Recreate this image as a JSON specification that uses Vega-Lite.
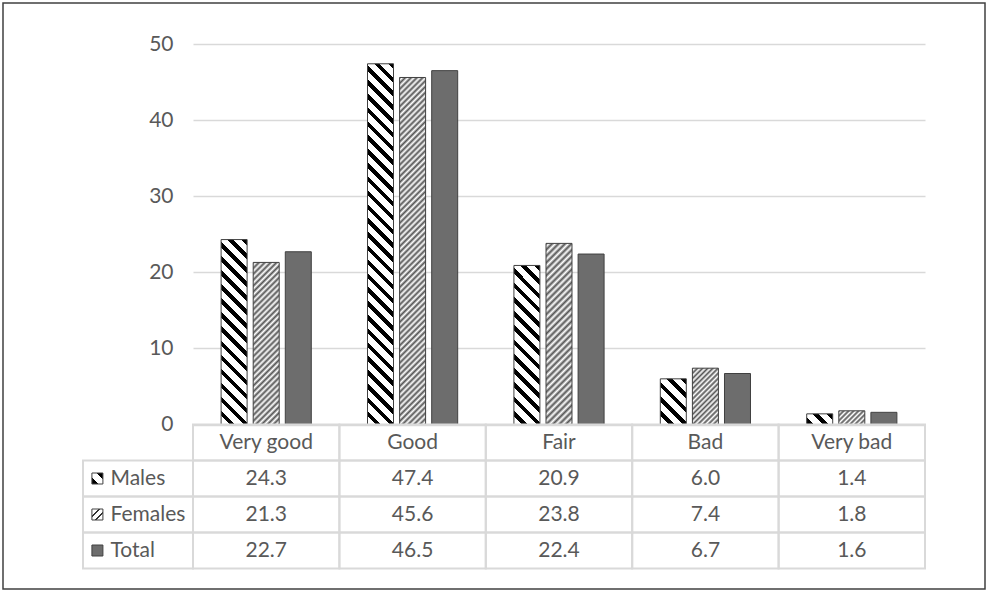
{
"$schema":"https://vega.github.io/schema/vega-lite/v6.json",
"width":982,"height":586,
"padding":{"left":3,"top":3,"right":2,"bottom":2},
"background":"white",
"config":{"view":{"stroke":"#404040","strokeWidth":1.5},"font":"Lato","axis":{"labelFont":"Lato"}},
"datasets":{
"bars":[
{"cat":"Very good","series":"Males","value":24.3},
{"cat":"Very good","series":"Females","value":21.3},
{"cat":"Very good","series":"Total","value":22.7},
{"cat":"Good","series":"Males","value":47.4},
{"cat":"Good","series":"Females","value":45.6},
{"cat":"Good","series":"Total","value":46.5},
{"cat":"Fair","series":"Males","value":20.9},
{"cat":"Fair","series":"Females","value":23.8},
{"cat":"Fair","series":"Total","value":22.4},
{"cat":"Bad","series":"Males","value":6.0},
{"cat":"Bad","series":"Females","value":7.4},
{"cat":"Bad","series":"Total","value":6.7},
{"cat":"Very bad","series":"Males","value":1.4},
{"cat":"Very bad","series":"Females","value":1.8},
{"cat":"Very bad","series":"Total","value":1.6}
],
"cats":[{"cat":"Very good"},{"cat":"Good"},{"cat":"Fair"},{"cat":"Bad"},{"cat":"Very bad"}],
"keys":[{"series":"Males"},{"series":"Females"},{"series":"Total"}]
},
"resolve":{"scale":{"x":"independent","y":"independent"}},
"layer":[
{
"data":{"name":"bars"},
"mark":{"type":"bar","stroke":"#404040","strokeWidth":1},
"encoding":{
"x":{"field":"cat","type":"nominal","sort":["Very good","Good","Fair","Bad","Very bad"],"scale":{"range":[190,922],"paddingInner":0.384,"paddingOuter":0.192},"axis":null},
"xOffset":{"field":"series","type":"nominal","sort":["Males","Females","Total"],"scale":{"paddingInner":0.19,"paddingOuter":0}},
"y":{"field":"value","type":"quantitative","scale":{"domain":[0,50],"range":[421.5,41],"nice":false},"axis":{"values":[0,10,20,30,40,50],"offset":-190,"domain":false,"ticks":false,"tickSize":0,"labelPadding":20,"labelFontSize":21,"labelColor":"#595959","grid":true,"gridColor":"#d9d9d9","gridWidth":1.5,"title":null}},
"fill":{"condition":[
{"test":"datum.series==='Males'&&datum.cat==='Very good'","value":{"gradient":"linear","x1":1,"y1":0,"x2":0.8427,"y2":1.1185,"stops":[
{"offset":0,"color":"#000"},{"offset":0.0267,"color":"#000"},{"offset":0.0267,"color":"#fff"},{"offset":0.0667,"color":"#fff"},
{"offset":0.0667,"color":"#000"},{"offset":0.0933,"color":"#000"},{"offset":0.0933,"color":"#fff"},{"offset":0.1333,"color":"#fff"},
{"offset":0.1333,"color":"#000"},{"offset":0.16,"color":"#000"},{"offset":0.16,"color":"#fff"},{"offset":0.2,"color":"#fff"},
{"offset":0.2,"color":"#000"},{"offset":0.2267,"color":"#000"},{"offset":0.2267,"color":"#fff"},{"offset":0.2667,"color":"#fff"},
{"offset":0.2667,"color":"#000"},{"offset":0.2933,"color":"#000"},{"offset":0.2933,"color":"#fff"},{"offset":0.3333,"color":"#fff"},
{"offset":0.3333,"color":"#000"},{"offset":0.36,"color":"#000"},{"offset":0.36,"color":"#fff"},{"offset":0.4,"color":"#fff"},
{"offset":0.4,"color":"#000"},{"offset":0.4267,"color":"#000"},{"offset":0.4267,"color":"#fff"},{"offset":0.4667,"color":"#fff"},
{"offset":0.4667,"color":"#000"},{"offset":0.4933,"color":"#000"},{"offset":0.4933,"color":"#fff"},{"offset":0.5333,"color":"#fff"},
{"offset":0.5333,"color":"#000"},{"offset":0.56,"color":"#000"},{"offset":0.56,"color":"#fff"},{"offset":0.6,"color":"#fff"},
{"offset":0.6,"color":"#000"},{"offset":0.6267,"color":"#000"},{"offset":0.6267,"color":"#fff"},{"offset":0.6667,"color":"#fff"},
{"offset":0.6667,"color":"#000"},{"offset":0.6933,"color":"#000"},{"offset":0.6933,"color":"#fff"},{"offset":0.7333,"color":"#fff"},
{"offset":0.7333,"color":"#000"},{"offset":0.76,"color":"#000"},{"offset":0.76,"color":"#fff"},{"offset":0.8,"color":"#fff"},
{"offset":0.8,"color":"#000"},{"offset":0.8267,"color":"#000"},{"offset":0.8267,"color":"#fff"},{"offset":0.8667,"color":"#fff"},
{"offset":0.8667,"color":"#000"},{"offset":0.8933,"color":"#000"},{"offset":0.8933,"color":"#fff"},{"offset":0.9333,"color":"#fff"},
{"offset":0.9333,"color":"#000"},{"offset":0.96,"color":"#000"},{"offset":0.96,"color":"#fff"},{"offset":1,"color":"#fff"}]}},
{"test":"datum.series==='Males'&&datum.cat==='Good'","value":{"gradient":"linear","x1":1,"y1":0,"x2":0.9231,"y2":1.0665,"stops":[
{"offset":0,"color":"#000"},{"offset":0.0143,"color":"#000"},{"offset":0.0143,"color":"#fff"},{"offset":0.0357,"color":"#fff"},
{"offset":0.0357,"color":"#000"},{"offset":0.05,"color":"#000"},{"offset":0.05,"color":"#fff"},{"offset":0.0714,"color":"#fff"},
{"offset":0.0714,"color":"#000"},{"offset":0.0857,"color":"#000"},{"offset":0.0857,"color":"#fff"},{"offset":0.1071,"color":"#fff"},
{"offset":0.1071,"color":"#000"},{"offset":0.1214,"color":"#000"},{"offset":0.1214,"color":"#fff"},{"offset":0.1429,"color":"#fff"},
{"offset":0.1429,"color":"#000"},{"offset":0.1571,"color":"#000"},{"offset":0.1571,"color":"#fff"},{"offset":0.1786,"color":"#fff"},
{"offset":0.1786,"color":"#000"},{"offset":0.1929,"color":"#000"},{"offset":0.1929,"color":"#fff"},{"offset":0.2143,"color":"#fff"},
{"offset":0.2143,"color":"#000"},{"offset":0.2286,"color":"#000"},{"offset":0.2286,"color":"#fff"},{"offset":0.25,"color":"#fff"},
{"offset":0.25,"color":"#000"},{"offset":0.2643,"color":"#000"},{"offset":0.2643,"color":"#fff"},{"offset":0.2857,"color":"#fff"},
{"offset":0.2857,"color":"#000"},{"offset":0.3,"color":"#000"},{"offset":0.3,"color":"#fff"},{"offset":0.3214,"color":"#fff"},
{"offset":0.3214,"color":"#000"},{"offset":0.3357,"color":"#000"},{"offset":0.3357,"color":"#fff"},{"offset":0.3571,"color":"#fff"},
{"offset":0.3571,"color":"#000"},{"offset":0.3714,"color":"#000"},{"offset":0.3714,"color":"#fff"},{"offset":0.3929,"color":"#fff"},
{"offset":0.3929,"color":"#000"},{"offset":0.4071,"color":"#000"},{"offset":0.4071,"color":"#fff"},{"offset":0.4286,"color":"#fff"},
{"offset":0.4286,"color":"#000"},{"offset":0.4429,"color":"#000"},{"offset":0.4429,"color":"#fff"},{"offset":0.4643,"color":"#fff"},
{"offset":0.4643,"color":"#000"},{"offset":0.4786,"color":"#000"},{"offset":0.4786,"color":"#fff"},{"offset":0.5,"color":"#fff"},
{"offset":0.5,"color":"#000"},{"offset":0.5143,"color":"#000"},{"offset":0.5143,"color":"#fff"},{"offset":0.5357,"color":"#fff"},
{"offset":0.5357,"color":"#000"},{"offset":0.55,"color":"#000"},{"offset":0.55,"color":"#fff"},{"offset":0.5714,"color":"#fff"},
{"offset":0.5714,"color":"#000"},{"offset":0.5857,"color":"#000"},{"offset":0.5857,"color":"#fff"},{"offset":0.6071,"color":"#fff"},
{"offset":0.6071,"color":"#000"},{"offset":0.6214,"color":"#000"},{"offset":0.6214,"color":"#fff"},{"offset":0.6429,"color":"#fff"},
{"offset":0.6429,"color":"#000"},{"offset":0.6571,"color":"#000"},{"offset":0.6571,"color":"#fff"},{"offset":0.6786,"color":"#fff"},
{"offset":0.6786,"color":"#000"},{"offset":0.6929,"color":"#000"},{"offset":0.6929,"color":"#fff"},{"offset":0.7143,"color":"#fff"},
{"offset":0.7143,"color":"#000"},{"offset":0.7286,"color":"#000"},{"offset":0.7286,"color":"#fff"},{"offset":0.75,"color":"#fff"},
{"offset":0.75,"color":"#000"},{"offset":0.7643,"color":"#000"},{"offset":0.7643,"color":"#fff"},{"offset":0.7857,"color":"#fff"},
{"offset":0.7857,"color":"#000"},{"offset":0.8,"color":"#000"},{"offset":0.8,"color":"#fff"},{"offset":0.8214,"color":"#fff"},
{"offset":0.8214,"color":"#000"},{"offset":0.8357,"color":"#000"},{"offset":0.8357,"color":"#fff"},{"offset":0.8571,"color":"#fff"},
{"offset":0.8571,"color":"#000"},{"offset":0.8714,"color":"#000"},{"offset":0.8714,"color":"#fff"},{"offset":0.8929,"color":"#fff"},
{"offset":0.8929,"color":"#000"},{"offset":0.9071,"color":"#000"},{"offset":0.9071,"color":"#fff"},{"offset":0.9286,"color":"#fff"},
{"offset":0.9286,"color":"#000"},{"offset":0.9429,"color":"#000"},{"offset":0.9429,"color":"#fff"},{"offset":0.9643,"color":"#fff"},
{"offset":0.9643,"color":"#000"},{"offset":0.9786,"color":"#000"},{"offset":0.9786,"color":"#fff"},{"offset":1,"color":"#fff"}]}},
{"test":"datum.series==='Males'&&datum.cat==='Fair'","value":{"gradient":"linear","x1":1,"y1":0,"x2":0.8147,"y2":1.1332,"stops":[
{"offset":0,"color":"#000"},{"offset":0.0308,"color":"#000"},{"offset":0.0308,"color":"#fff"},{"offset":0.0769,"color":"#fff"},
{"offset":0.0769,"color":"#000"},{"offset":0.1077,"color":"#000"},{"offset":0.1077,"color":"#fff"},{"offset":0.1538,"color":"#fff"},
{"offset":0.1538,"color":"#000"},{"offset":0.1846,"color":"#000"},{"offset":0.1846,"color":"#fff"},{"offset":0.2308,"color":"#fff"},
{"offset":0.2308,"color":"#000"},{"offset":0.2615,"color":"#000"},{"offset":0.2615,"color":"#fff"},{"offset":0.3077,"color":"#fff"},
{"offset":0.3077,"color":"#000"},{"offset":0.3385,"color":"#000"},{"offset":0.3385,"color":"#fff"},{"offset":0.3846,"color":"#fff"},
{"offset":0.3846,"color":"#000"},{"offset":0.4154,"color":"#000"},{"offset":0.4154,"color":"#fff"},{"offset":0.4615,"color":"#fff"},
{"offset":0.4615,"color":"#000"},{"offset":0.4923,"color":"#000"},{"offset":0.4923,"color":"#fff"},{"offset":0.5385,"color":"#fff"},
{"offset":0.5385,"color":"#000"},{"offset":0.5692,"color":"#000"},{"offset":0.5692,"color":"#fff"},{"offset":0.6154,"color":"#fff"},
{"offset":0.6154,"color":"#000"},{"offset":0.6462,"color":"#000"},{"offset":0.6462,"color":"#fff"},{"offset":0.6923,"color":"#fff"},
{"offset":0.6923,"color":"#000"},{"offset":0.7231,"color":"#000"},{"offset":0.7231,"color":"#fff"},{"offset":0.7692,"color":"#fff"},
{"offset":0.7692,"color":"#000"},{"offset":0.8,"color":"#000"},{"offset":0.8,"color":"#fff"},{"offset":0.8462,"color":"#fff"},
{"offset":0.8462,"color":"#000"},{"offset":0.8769,"color":"#000"},{"offset":0.8769,"color":"#fff"},{"offset":0.9231,"color":"#fff"},
{"offset":0.9231,"color":"#000"},{"offset":0.9538,"color":"#000"},{"offset":0.9538,"color":"#fff"},{"offset":1,"color":"#fff"}]}},
{"test":"datum.series==='Males'&&datum.cat==='Bad'","value":{"gradient":"linear","x1":1,"y1":0,"x2":0.3257,"y2":1.1853,"stops":[
{"offset":0,"color":"#000"},{"offset":0.08,"color":"#000"},{"offset":0.08,"color":"#fff"},{"offset":0.2,"color":"#fff"},
{"offset":0.2,"color":"#000"},{"offset":0.28,"color":"#000"},{"offset":0.28,"color":"#fff"},{"offset":0.4,"color":"#fff"},
{"offset":0.4,"color":"#000"},{"offset":0.48,"color":"#000"},{"offset":0.48,"color":"#fff"},{"offset":0.6,"color":"#fff"},
{"offset":0.6,"color":"#000"},{"offset":0.68,"color":"#000"},{"offset":0.68,"color":"#fff"},{"offset":0.8,"color":"#fff"},
{"offset":0.8,"color":"#000"},{"offset":0.88,"color":"#000"},{"offset":0.88,"color":"#fff"},{"offset":1,"color":"#fff"}]}},
{"test":"datum.series==='Males'&&datum.cat==='Very bad'","value":{"gradient":"linear","x1":1,"y1":0,"x2":-0.2071,"y2":0.4944,"stops":[
{"offset":0,"color":"#000"},{"offset":0.16,"color":"#000"},{"offset":0.16,"color":"#fff"},{"offset":0.4,"color":"#fff"},
{"offset":0.4,"color":"#000"},{"offset":0.56,"color":"#000"},{"offset":0.56,"color":"#fff"},{"offset":0.8,"color":"#fff"},
{"offset":0.8,"color":"#000"},{"offset":0.96,"color":"#000"},{"offset":0.96,"color":"#fff"},{"offset":1,"color":"#fff"}]}},
{"test":"datum.series==='Females'&&datum.cat==='Very good'","value":{"gradient":"linear","x1":0,"y1":0,"x2":0.1815,"y2":1.1313,"stops":[
{"offset":0,"color":"#555"},{"offset":0.015625,"color":"#fff"},{"offset":0.03125,"color":"#555"},{"offset":0.046875,"color":"#fff"},
{"offset":0.0625,"color":"#555"},{"offset":0.078125,"color":"#fff"},{"offset":0.09375,"color":"#555"},{"offset":0.109375,"color":"#fff"},
{"offset":0.125,"color":"#555"},{"offset":0.140625,"color":"#fff"},{"offset":0.15625,"color":"#555"},{"offset":0.171875,"color":"#fff"},
{"offset":0.1875,"color":"#555"},{"offset":0.203125,"color":"#fff"},{"offset":0.21875,"color":"#555"},{"offset":0.234375,"color":"#fff"},
{"offset":0.25,"color":"#555"},{"offset":0.265625,"color":"#fff"},{"offset":0.28125,"color":"#555"},{"offset":0.296875,"color":"#fff"},
{"offset":0.3125,"color":"#555"},{"offset":0.328125,"color":"#fff"},{"offset":0.34375,"color":"#555"},{"offset":0.359375,"color":"#fff"},
{"offset":0.375,"color":"#555"},{"offset":0.390625,"color":"#fff"},{"offset":0.40625,"color":"#555"},{"offset":0.421875,"color":"#fff"},
{"offset":0.4375,"color":"#555"},{"offset":0.453125,"color":"#fff"},{"offset":0.46875,"color":"#555"},{"offset":0.484375,"color":"#fff"},
{"offset":0.5,"color":"#555"},{"offset":0.515625,"color":"#fff"},{"offset":0.53125,"color":"#555"},{"offset":0.546875,"color":"#fff"},
{"offset":0.5625,"color":"#555"},{"offset":0.578125,"color":"#fff"},{"offset":0.59375,"color":"#555"},{"offset":0.609375,"color":"#fff"},
{"offset":0.625,"color":"#555"},{"offset":0.640625,"color":"#fff"},{"offset":0.65625,"color":"#555"},{"offset":0.671875,"color":"#fff"},
{"offset":0.6875,"color":"#555"},{"offset":0.703125,"color":"#fff"},{"offset":0.71875,"color":"#555"},{"offset":0.734375,"color":"#fff"},
{"offset":0.75,"color":"#555"},{"offset":0.765625,"color":"#fff"},{"offset":0.78125,"color":"#555"},{"offset":0.796875,"color":"#fff"},
{"offset":0.8125,"color":"#555"},{"offset":0.828125,"color":"#fff"},{"offset":0.84375,"color":"#555"},{"offset":0.859375,"color":"#fff"},
{"offset":0.875,"color":"#555"},{"offset":0.890625,"color":"#fff"},{"offset":0.90625,"color":"#555"},{"offset":0.921875,"color":"#fff"},
{"offset":0.9375,"color":"#555"},{"offset":0.953125,"color":"#fff"},{"offset":0.96875,"color":"#555"},{"offset":0.984375,"color":"#fff"},
{"offset":1,"color":"#555"}]}},
{"test":"datum.series==='Females'&&datum.cat==='Good'","value":{"gradient":"linear","x1":0,"y1":0,"x2":0.0801,"y2":1.0689,"stops":[
{"offset":0,"color":"#555"},{"offset":0.0078,"color":"#fff"},{"offset":0.0156,"color":"#555"},{"offset":0.0234,"color":"#fff"},
{"offset":0.0313,"color":"#555"},{"offset":0.0391,"color":"#fff"},{"offset":0.0469,"color":"#555"},{"offset":0.0547,"color":"#fff"},
{"offset":0.0625,"color":"#555"},{"offset":0.0703,"color":"#fff"},{"offset":0.0781,"color":"#555"},{"offset":0.0859,"color":"#fff"},
{"offset":0.0938,"color":"#555"},{"offset":0.1016,"color":"#fff"},{"offset":0.1094,"color":"#555"},{"offset":0.1172,"color":"#fff"},
{"offset":0.125,"color":"#555"},{"offset":0.1328,"color":"#fff"},{"offset":0.1406,"color":"#555"},{"offset":0.1484,"color":"#fff"},
{"offset":0.1563,"color":"#555"},{"offset":0.1641,"color":"#fff"},{"offset":0.1719,"color":"#555"},{"offset":0.1797,"color":"#fff"},
{"offset":0.1875,"color":"#555"},{"offset":0.1953,"color":"#fff"},{"offset":0.2031,"color":"#555"},{"offset":0.2109,"color":"#fff"},
{"offset":0.2188,"color":"#555"},{"offset":0.2266,"color":"#fff"},{"offset":0.2344,"color":"#555"},{"offset":0.2422,"color":"#fff"},
{"offset":0.25,"color":"#555"},{"offset":0.2578,"color":"#fff"},{"offset":0.2656,"color":"#555"},{"offset":0.2734,"color":"#fff"},
{"offset":0.2813,"color":"#555"},{"offset":0.2891,"color":"#fff"},{"offset":0.2969,"color":"#555"},{"offset":0.3047,"color":"#fff"},
{"offset":0.3125,"color":"#555"},{"offset":0.3203,"color":"#fff"},{"offset":0.3281,"color":"#555"},{"offset":0.3359,"color":"#fff"},
{"offset":0.3438,"color":"#555"},{"offset":0.3516,"color":"#fff"},{"offset":0.3594,"color":"#555"},{"offset":0.3672,"color":"#fff"},
{"offset":0.375,"color":"#555"},{"offset":0.3828,"color":"#fff"},{"offset":0.3906,"color":"#555"},{"offset":0.3984,"color":"#fff"},
{"offset":0.4063,"color":"#555"},{"offset":0.4141,"color":"#fff"},{"offset":0.4219,"color":"#555"},{"offset":0.4297,"color":"#fff"},
{"offset":0.4375,"color":"#555"},{"offset":0.4453,"color":"#fff"},{"offset":0.4531,"color":"#555"},{"offset":0.4609,"color":"#fff"},
{"offset":0.4688,"color":"#555"},{"offset":0.4766,"color":"#fff"},{"offset":0.4844,"color":"#555"},{"offset":0.4922,"color":"#fff"},
{"offset":0.5,"color":"#555"},{"offset":0.5078,"color":"#fff"},{"offset":0.5156,"color":"#555"},{"offset":0.5234,"color":"#fff"},
{"offset":0.5313,"color":"#555"},{"offset":0.5391,"color":"#fff"},{"offset":0.5469,"color":"#555"},{"offset":0.5547,"color":"#fff"},
{"offset":0.5625,"color":"#555"},{"offset":0.5703,"color":"#fff"},{"offset":0.5781,"color":"#555"},{"offset":0.5859,"color":"#fff"},
{"offset":0.5938,"color":"#555"},{"offset":0.6016,"color":"#fff"},{"offset":0.6094,"color":"#555"},{"offset":0.6172,"color":"#fff"},
{"offset":0.625,"color":"#555"},{"offset":0.6328,"color":"#fff"},{"offset":0.6406,"color":"#555"},{"offset":0.6484,"color":"#fff"},
{"offset":0.6563,"color":"#555"},{"offset":0.6641,"color":"#fff"},{"offset":0.6719,"color":"#555"},{"offset":0.6797,"color":"#fff"},
{"offset":0.6875,"color":"#555"},{"offset":0.6953,"color":"#fff"},{"offset":0.7031,"color":"#555"},{"offset":0.7109,"color":"#fff"},
{"offset":0.7188,"color":"#555"},{"offset":0.7266,"color":"#fff"},{"offset":0.7344,"color":"#555"},{"offset":0.7422,"color":"#fff"},
{"offset":0.75,"color":"#555"},{"offset":0.7578,"color":"#fff"},{"offset":0.7656,"color":"#555"},{"offset":0.7734,"color":"#fff"},
{"offset":0.7813,"color":"#555"},{"offset":0.7891,"color":"#fff"},{"offset":0.7969,"color":"#555"},{"offset":0.8047,"color":"#fff"},
{"offset":0.8125,"color":"#555"},{"offset":0.8203,"color":"#fff"},{"offset":0.8281,"color":"#555"},{"offset":0.8359,"color":"#fff"},
{"offset":0.8438,"color":"#555"},{"offset":0.8516,"color":"#fff"},{"offset":0.8594,"color":"#555"},{"offset":0.8672,"color":"#fff"},
{"offset":0.875,"color":"#555"},{"offset":0.8828,"color":"#fff"},{"offset":0.8906,"color":"#555"},{"offset":0.8984,"color":"#fff"},
{"offset":0.9063,"color":"#555"},{"offset":0.9141,"color":"#fff"},{"offset":0.9219,"color":"#555"},{"offset":0.9297,"color":"#fff"},
{"offset":0.9375,"color":"#555"},{"offset":0.9453,"color":"#fff"},{"offset":0.9531,"color":"#555"},{"offset":0.9609,"color":"#fff"},
{"offset":0.9688,"color":"#555"},{"offset":0.9766,"color":"#fff"},{"offset":0.9844,"color":"#555"},{"offset":0.9922,"color":"#fff"},
{"offset":1,"color":"#555"}]}},
{"test":"datum.series==='Females'&&datum.cat==='Fair'","value":{"gradient":"linear","x1":0,"y1":0,"x2":0.1609,"y2":1.1205,"stops":[
{"offset":0,"color":"#555"},{"offset":0.015625,"color":"#fff"},{"offset":0.03125,"color":"#555"},{"offset":0.046875,"color":"#fff"},
{"offset":0.0625,"color":"#555"},{"offset":0.078125,"color":"#fff"},{"offset":0.09375,"color":"#555"},{"offset":0.109375,"color":"#fff"},
{"offset":0.125,"color":"#555"},{"offset":0.140625,"color":"#fff"},{"offset":0.15625,"color":"#555"},{"offset":0.171875,"color":"#fff"},
{"offset":0.1875,"color":"#555"},{"offset":0.203125,"color":"#fff"},{"offset":0.21875,"color":"#555"},{"offset":0.234375,"color":"#fff"},
{"offset":0.25,"color":"#555"},{"offset":0.265625,"color":"#fff"},{"offset":0.28125,"color":"#555"},{"offset":0.296875,"color":"#fff"},
{"offset":0.3125,"color":"#555"},{"offset":0.328125,"color":"#fff"},{"offset":0.34375,"color":"#555"},{"offset":0.359375,"color":"#fff"},
{"offset":0.375,"color":"#555"},{"offset":0.390625,"color":"#fff"},{"offset":0.40625,"color":"#555"},{"offset":0.421875,"color":"#fff"},
{"offset":0.4375,"color":"#555"},{"offset":0.453125,"color":"#fff"},{"offset":0.46875,"color":"#555"},{"offset":0.484375,"color":"#fff"},
{"offset":0.5,"color":"#555"},{"offset":0.515625,"color":"#fff"},{"offset":0.53125,"color":"#555"},{"offset":0.546875,"color":"#fff"},
{"offset":0.5625,"color":"#555"},{"offset":0.578125,"color":"#fff"},{"offset":0.59375,"color":"#555"},{"offset":0.609375,"color":"#fff"},
{"offset":0.625,"color":"#555"},{"offset":0.640625,"color":"#fff"},{"offset":0.65625,"color":"#555"},{"offset":0.671875,"color":"#fff"},
{"offset":0.6875,"color":"#555"},{"offset":0.703125,"color":"#fff"},{"offset":0.71875,"color":"#555"},{"offset":0.734375,"color":"#fff"},
{"offset":0.75,"color":"#555"},{"offset":0.765625,"color":"#fff"},{"offset":0.78125,"color":"#555"},{"offset":0.796875,"color":"#fff"},
{"offset":0.8125,"color":"#555"},{"offset":0.828125,"color":"#fff"},{"offset":0.84375,"color":"#555"},{"offset":0.859375,"color":"#fff"},
{"offset":0.875,"color":"#555"},{"offset":0.890625,"color":"#fff"},{"offset":0.90625,"color":"#555"},{"offset":0.921875,"color":"#fff"},
{"offset":0.9375,"color":"#555"},{"offset":0.953125,"color":"#fff"},{"offset":0.96875,"color":"#555"},{"offset":0.984375,"color":"#fff"},
{"offset":1,"color":"#555"}]}},
{"test":"datum.series==='Females'&&datum.cat==='Bad'","value":{"gradient":"linear","x1":0,"y1":0,"x2":0.5564,"y2":1.2049,"stops":[
{"offset":0,"color":"#555"},{"offset":0.03125,"color":"#fff"},{"offset":0.0625,"color":"#555"},{"offset":0.09375,"color":"#fff"},
{"offset":0.125,"color":"#555"},{"offset":0.15625,"color":"#fff"},{"offset":0.1875,"color":"#555"},{"offset":0.21875,"color":"#fff"},
{"offset":0.25,"color":"#555"},{"offset":0.28125,"color":"#fff"},{"offset":0.3125,"color":"#555"},{"offset":0.34375,"color":"#fff"},
{"offset":0.375,"color":"#555"},{"offset":0.40625,"color":"#fff"},{"offset":0.4375,"color":"#555"},{"offset":0.46875,"color":"#fff"},
{"offset":0.5,"color":"#555"},{"offset":0.53125,"color":"#fff"},{"offset":0.5625,"color":"#555"},{"offset":0.59375,"color":"#fff"},
{"offset":0.625,"color":"#555"},{"offset":0.65625,"color":"#fff"},{"offset":0.6875,"color":"#555"},{"offset":0.71875,"color":"#fff"},
{"offset":0.75,"color":"#555"},{"offset":0.78125,"color":"#fff"},{"offset":0.8125,"color":"#555"},{"offset":0.84375,"color":"#fff"},
{"offset":0.875,"color":"#555"},{"offset":0.90625,"color":"#fff"},{"offset":0.9375,"color":"#555"},{"offset":0.96875,"color":"#fff"},
{"offset":1,"color":"#555"}]}},
{"test":"datum.series==='Females'&&datum.cat==='Very bad'","value":{"gradient":"linear","x1":0,"y1":0,"x2":1.1951,"y2":0.6297,"stops":[
{"offset":0,"color":"#555"},{"offset":0.0625,"color":"#fff"},{"offset":0.125,"color":"#555"},{"offset":0.1875,"color":"#fff"},
{"offset":0.25,"color":"#555"},{"offset":0.3125,"color":"#fff"},{"offset":0.375,"color":"#555"},{"offset":0.4375,"color":"#fff"},
{"offset":0.5,"color":"#555"},{"offset":0.5625,"color":"#fff"},{"offset":0.625,"color":"#555"},{"offset":0.6875,"color":"#fff"},
{"offset":0.75,"color":"#555"},{"offset":0.8125,"color":"#fff"},{"offset":0.875,"color":"#555"},{"offset":0.9375,"color":"#fff"},
{"offset":1,"color":"#555"}]}}
],"value":"#6d6d6d"}
}
},
{
"layer":[
{"data":{"name":"bars"},"mark":{"type":"rect","filled":false,"stroke":"#d9d9d9","strokeWidth":2},
"encoding":{
"x":{"field":"cat","type":"nominal","sort":["Very good","Good","Fair","Bad","Very bad"],"scale":{"range":[190,922],"paddingInner":0,"paddingOuter":0},"axis":null},
"y":{"field":"series","type":"nominal","scale":{"domain":["hdr","Males","Females","Total"],"range":[421.5,565.5],"paddingInner":0,"paddingOuter":0},"axis":null}}},
{"data":{"name":"cats"},"mark":{"type":"rect","filled":false,"stroke":"#d9d9d9","strokeWidth":2},
"encoding":{
"x":{"field":"cat","type":"nominal","sort":["Very good","Good","Fair","Bad","Very bad"],"scale":{"range":[190,922],"paddingInner":0,"paddingOuter":0},"axis":null},
"y":{"datum":"hdr","type":"nominal","scale":{"domain":["hdr","Males","Females","Total"],"range":[421.5,565.5],"paddingInner":0,"paddingOuter":0},"axis":null}}},
{"data":{"name":"bars"},"mark":{"type":"text","font":"Lato","fontSize":21,"color":"#595959","baseline":"middle"},
"encoding":{
"x":{"field":"cat","type":"nominal","sort":["Very good","Good","Fair","Bad","Very bad"],"scale":{"range":[190,922],"paddingInner":0,"paddingOuter":0},"axis":null},
"y":{"field":"series","type":"nominal","scale":{"domain":["hdr","Males","Females","Total"],"range":[421.5,565.5],"paddingInner":0,"paddingOuter":0},"axis":null},
"text":{"field":"value","type":"quantitative","format":".1f"}}},
{"data":{"name":"cats"},"mark":{"type":"text","font":"Lato","fontSize":21,"color":"#595959","baseline":"middle"},
"encoding":{
"x":{"field":"cat","type":"nominal","sort":["Very good","Good","Fair","Bad","Very bad"],"scale":{"range":[190,922],"paddingInner":0,"paddingOuter":0},"axis":null},
"y":{"datum":"hdr","type":"nominal","scale":{"domain":["hdr","Males","Females","Total"],"range":[421.5,565.5],"paddingInner":0,"paddingOuter":0},"axis":null},
"text":{"field":"cat","type":"nominal"}}}
]
},
{
"data":{"name":"keys"},
"layer":[
{"mark":{"type":"rect","filled":false,"stroke":"#d9d9d9","strokeWidth":2},
"encoding":{
"x":{"datum":"lbl","type":"nominal","scale":{"domain":["lbl"],"range":[80,190],"paddingInner":0,"paddingOuter":0},"axis":null},
"y":{"field":"series","type":"nominal","scale":{"domain":["hdr","Males","Females","Total"],"range":[421.5,565.5],"paddingInner":0,"paddingOuter":0},"axis":null}}},
{"mark":{"type":"text","font":"Lato","fontSize":21,"color":"#595959","align":"left","baseline":"middle"},
"encoding":{
"x":{"datum":"lbl","type":"nominal","bandPosition":0.25,"scale":{"domain":["lbl"],"range":[80,190],"paddingInner":0,"paddingOuter":0},"axis":null},
"y":{"field":"series","type":"nominal","scale":{"domain":["hdr","Males","Females","Total"],"range":[421.5,565.5],"paddingInner":0,"paddingOuter":0},"axis":null},
"text":{"field":"series","type":"nominal"}}},
{"mark":{"type":"point","shape":"square","size":121,"filled":true,"opacity":1,"stroke":"#404040","strokeWidth":1},
"encoding":{
"x":{"datum":"lbl","type":"nominal","bandPosition":0.131,"scale":{"domain":["lbl"],"range":[80,190],"paddingInner":0,"paddingOuter":0},"axis":null},
"y":{"field":"series","type":"nominal","scale":{"domain":["hdr","Males","Females","Total"],"range":[421.5,565.5],"paddingInner":0,"paddingOuter":0},"axis":null},
"fill":{"condition":[
{"test":"datum.series==='Males'","value":{"gradient":"linear","x1":1,"y1":0,"x2":0,"y2":1,"stops":[
{"offset":0,"color":"#000"},{"offset":0.3,"color":"#000"},{"offset":0.3,"color":"#fff"},{"offset":0.7,"color":"#fff"},{"offset":0.7,"color":"#000"},{"offset":1,"color":"#000"}]}},
{"test":"datum.series==='Females'","value":{"gradient":"linear","x1":0,"y1":0,"x2":1,"y2":1,"stops":[
{"offset":0,"color":"#fff"},{"offset":0.28,"color":"#fff"},{"offset":0.28,"color":"#333"},{"offset":0.4,"color":"#333"},{"offset":0.4,"color":"#fff"},{"offset":0.6,"color":"#fff"},{"offset":0.6,"color":"#333"},{"offset":0.72,"color":"#333"},{"offset":0.72,"color":"#fff"},{"offset":1,"color":"#fff"}]}}
],"value":"#6d6d6d"}}}
]
}
]
}
